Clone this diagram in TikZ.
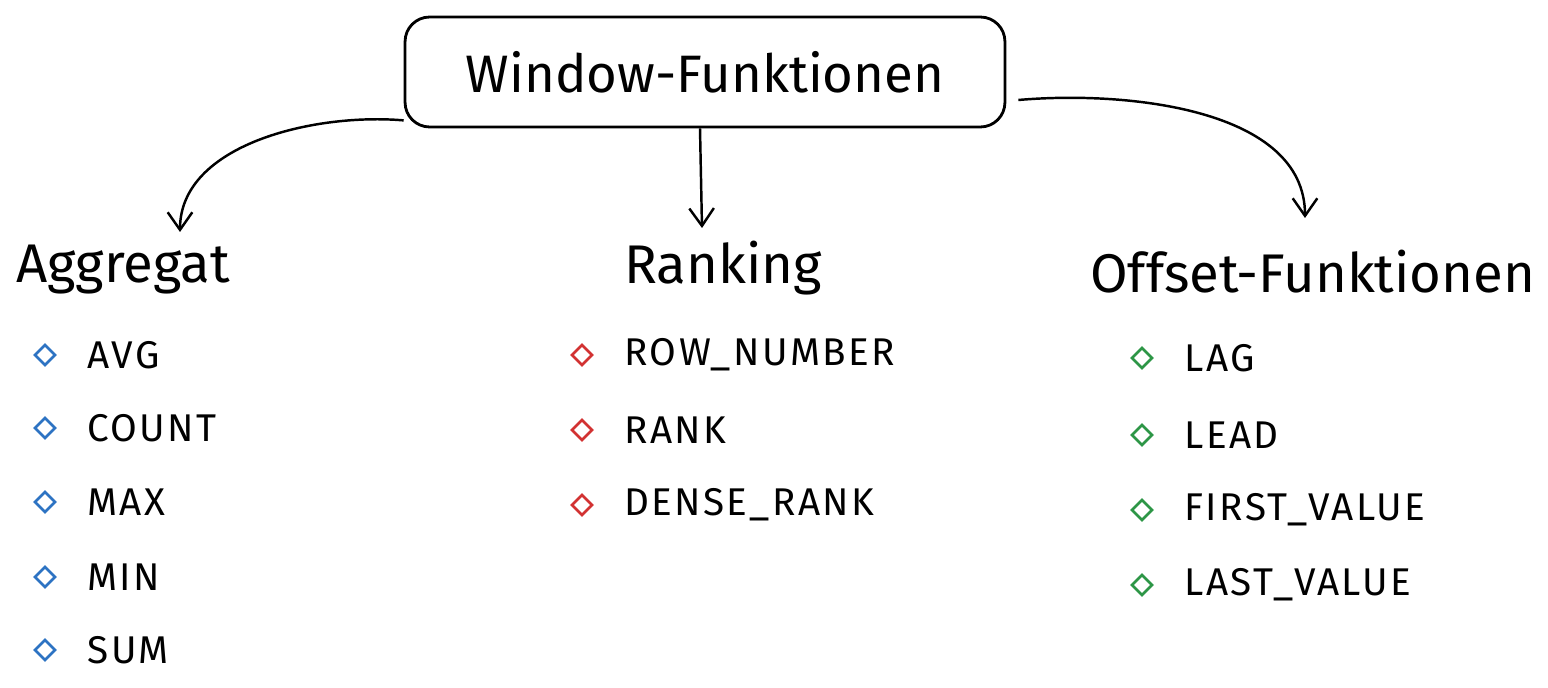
\documentclass[tikz,border=0pt]{standalone}
\usepackage{fontspec}
\setmainfont{Fira Sans}
\usetikzlibrary{arrows.meta,positioning}
\usetikzlibrary{shapes.geometric}
\definecolor{aggblue}{RGB}{45,115,195}
\definecolor{rankred}{RGB}{210,50,50}
\definecolor{offgreen}{RGB}{45,150,70}
\tikzset{
  box/.style={draw, line width=1.6pt, rounded corners=14pt, minimum width=12cm, minimum height=2.2cm, font=\fontsize{30}{36}\selectfont},
  head/.style={anchor=west, font=\fontsize{31}{36}\selectfont},
  item/.style={anchor=west, font=\fontsize{22}{26}\selectfont\addfontfeature{LetterSpace=6}},
  mark/.style={draw=#1, line width=1.5pt, diamond, inner sep=0pt, minimum size=0.42cm},
  link/.style={line width=1.4pt, -{Straight Barb[length=10pt,width=14pt]}}
}
\begin{document}
\begin{tikzpicture}[x=0.02cm,y=-0.02cm]
  \useasboundingbox (0,0) rectangle (1548,688);
  \node[box] (top) at (705,72) {Window-Funktionen};

  \node[head] (agg)  at (10,270)   {Aggregat};
  \node[head] (rank) at (618,268)  {Ranking};
  \node[head] (off)  at (1084,272) {Offset-Funktionen};

  \coordinate (aggin)  at (180,232);
  \coordinate (rankin) at (702,228);
  \coordinate (offin)  at (1305,218);

  \draw[link] (top.south west) ++(0,-8) to[out=175,in=90,looseness=0.9] (aggin);
  \draw[link] (top.south) ++(-5,0) -- (rankin);
  \draw[link] (top.east) ++(12,28) to[out=5,in=90,looseness=0.9] (offin);

  % Aggregat
  \foreach \t/\y [count=\i] in {AVG/355,COUNT/428,MAX/502,MIN/577,SUM/650} {
    \node[mark=aggblue] (ad\i) at (45,\y) {};
    \node[item, right=14pt of ad\i] (at\i) {\t};
  }
  % Ranking
  \foreach \t/\y [count=\i] in {ROW\_NUMBER/355,RANK/430,DENSE\_RANK/505} {
    \node[mark=rankred] (rd\i) at (582,\y) {};
    \node[item, right=14pt of rd\i] (rt\i) {\t};
  }
  % Offset
  \foreach \t/\y [count=\i] in {LAG/358,LEAD/435,FIRST\_VALUE/510,LAST\_VALUE/585} {
    \node[mark=offgreen] (od\i) at (1142,\y) {};
    \node[item, right=14pt of od\i] (ot\i) {\t};
  }
\end{tikzpicture}
\end{document}
